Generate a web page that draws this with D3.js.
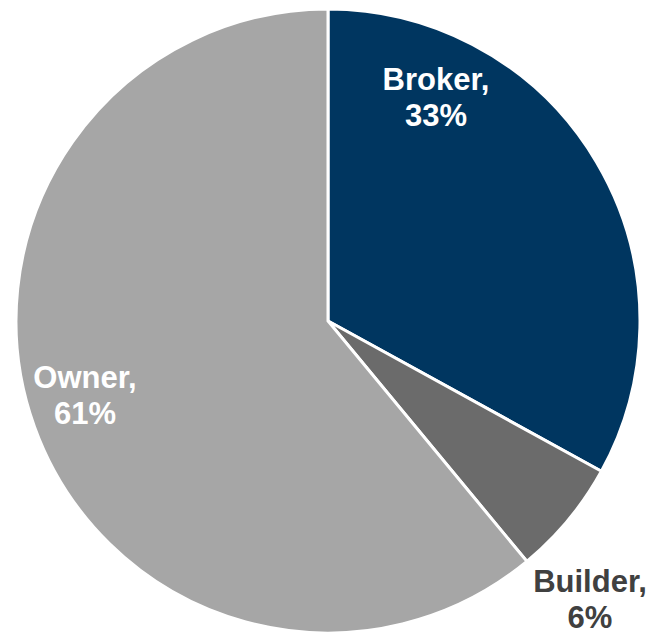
<!DOCTYPE html>
<html>
<head>
<meta charset="utf-8">
<script src="https://cdn.jsdelivr.net/npm/d3@7"></script>
<style>
  html, body { margin: 0; padding: 0; background: #ffffff; }
  svg { display: block; }
</style>
</head>
<body>
<svg id="chart" width="654" height="635"></svg>
<script>
// Share of listings by source
const categories = ["Broker", "Builder", "Owner"];
const values = [33, 6, 61];
const sliceColors = ["#003660", "#6b6b6b", "#a6a6a6"];
const labelColors = ["#ffffff", "#404040", "#ffffff"];

const width = 654, height = 635;
const cx = 328, cy = 321, radius = 312;

const svg = d3.select("#chart");
const g = svg.append("g").attr("transform", `translate(${cx},${cy})`);

const data = categories.map((c, i) => ({ name: c, value: values[i], i }));

const pie = d3.pie().value(d => d.value).sort(null);
const arc = d3.arc().innerRadius(0).outerRadius(radius);

const arcs = pie(data);

g.selectAll("path.slice")
  .data(arcs)
  .join("path")
  .attr("class", "slice")
  .attr("d", arc)
  .attr("fill", d => sliceColors[d.data.i])
  .attr("stroke", "#ffffff")
  .attr("stroke-width", 3)
  .attr("stroke-linejoin", "miter");

// Label anchors (first-line baseline), relative to the pie centre
const labelOffsets = [[108, -231], [262, 271], [-243, 67]];

const labels = g.selectAll("text.label")
  .data(arcs)
  .join("text")
  .attr("class", "label")
  .attr("transform", d => `translate(${labelOffsets[d.data.i][0]},${labelOffsets[d.data.i][1]})`)
  .attr("text-anchor", "middle")
  .attr("fill", d => labelColors[d.data.i])
  .style("font-family", "'Liberation Sans', Arial, sans-serif")
  .style("font-weight", "bold")
  .style("font-size", "31px");

labels.append("tspan")
  .attr("x", 0)
  .attr("y", 0)
  .text(d => d.data.name + ",");

labels.append("tspan")
  .attr("x", 0)
  .attr("y", 36)
  .text(d => d.data.value + "%");
</script>
</body>
</html>
